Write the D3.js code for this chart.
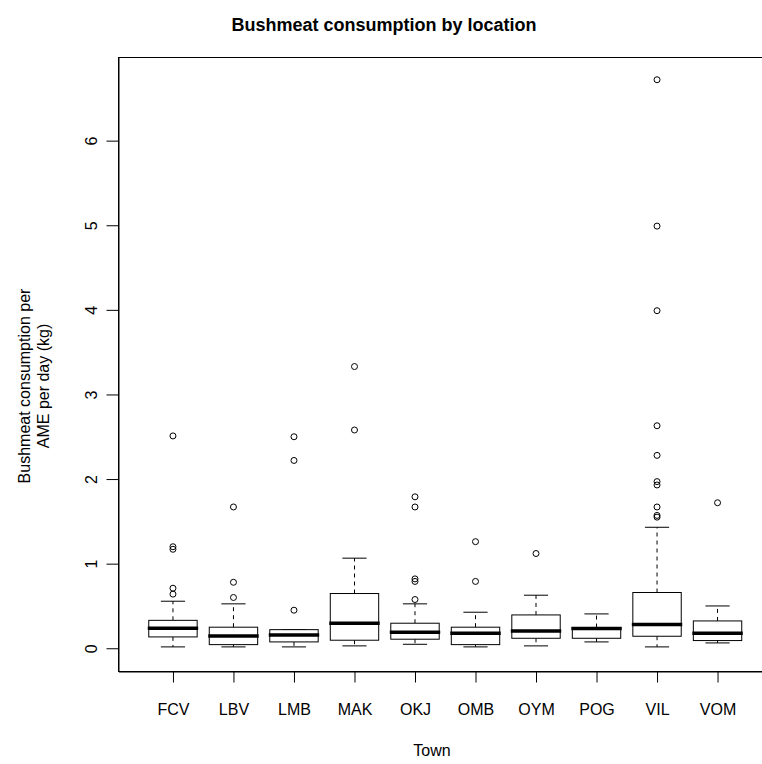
<!DOCTYPE html>
<html>
<head>
<meta charset="utf-8">
<script src="https://cdn.jsdelivr.net/npm/d3@7"></script>
<style>
  body { margin: 0; background: #fff; }
  svg { display: block; background: #fff; }
  text { font-family: "Liberation Sans", Arial, Helvetica, sans-serif; fill: #000; }
</style>
</head>
<body>
<svg id="chart" width="762" height="764"></svg>
<script>
// Town codes along the x axis
const towns = ["FCV", "LBV", "LMB", "MAK", "OKJ", "OMB", "OYM", "POG", "VIL", "VOM"];

// Box statistics per town (kg per AME per day)
const whiskerLow  = [0.016, 0.016, 0.016, 0.028, 0.047, 0.016, 0.028, 0.075, 0.016, 0.063];
const lowerHinge  = [0.134, 0.043, 0.075, 0.095, 0.107, 0.043, 0.118, 0.118, 0.142, 0.091];
const medians     = [0.236, 0.146, 0.158, 0.296, 0.189, 0.178, 0.205, 0.233, 0.280, 0.178];
const upperHinge  = [0.330, 0.249, 0.220, 0.647, 0.296, 0.249, 0.394, 0.245, 0.659, 0.323];
const whiskerHigh = [0.556, 0.525, 0.220, 1.065, 0.525, 0.426, 0.627, 0.406, 1.430, 0.500];

// Observations beyond the whiskers
const outliers = [
  [0.64, 0.71, 1.17, 1.20, 2.51],
  [0.60, 0.78, 1.67],
  [0.45, 2.22, 2.50],
  [2.58, 3.33],
  [0.576, 0.79, 0.82, 1.67, 1.79],
  [0.79, 1.26],
  [1.12],
  [],
  [1.55, 1.57, 1.67, 1.93, 1.97, 2.28, 2.63, 3.99, 4.99, 6.72],
  [1.72]
];

const yTicks = [0, 1, 2, 3, 4, 5, 6];

const width = 762, height = 764;
const plot = { left: 118.5, right: 772, top: 57, bottom: 671 };

const svg = d3.select("#chart");

// Data range padded by 4% on each side, as in a base-graphics boxplot
const yMax = d3.max(outliers.flat().concat(whiskerHigh));
const yMin = 0;
const pad = (yMax - yMin) * 0.04;
const y = d3.scaleLinear().domain([yMin - pad, yMax + pad]).range([plot.bottom, plot.top]);
const x = d3.scaleLinear().domain([0.1, towns.length + 0.9]).range([plot.left, plot.right]);

const boxW = (x(2) - x(1)) * 0.8;

// Plot frame
svg.append("rect")
  .attr("x", plot.left).attr("y", plot.top + 0.5)
  .attr("width", plot.right - plot.left).attr("height", plot.bottom - plot.top)
  .attr("fill", "none").attr("stroke", "#000").attr("stroke-width", 1);

// Y axis
const yAxis = svg.append("g")
  .attr("transform", `translate(${plot.left},0)`)
  .call(d3.axisLeft(y).tickValues(yTicks).tickSize(12).tickSizeOuter(0).tickFormat(d3.format("d")));
yAxis.select(".domain").attr("stroke", "#000");
yAxis.selectAll(".tick line").attr("stroke", "#000");
yAxis.selectAll(".tick text")
  .attr("x", null).attr("dy", null)
  .attr("transform", "translate(-22,0) rotate(-90)")
  .attr("text-anchor", "middle")
  .style("font-size", "16px");

// X axis
const xAxis = svg.append("g")
  .attr("transform", `translate(0,${plot.bottom + 0.5})`)
  .call(d3.axisBottom(x).tickValues(d3.range(1, towns.length + 1)).tickSize(11).tickSizeOuter(0)
    .tickFormat(i => towns[i - 1]));
xAxis.select(".domain").attr("stroke", "#000");
xAxis.selectAll(".tick line").attr("stroke", "#000");
xAxis.selectAll(".tick text")
  .attr("y", 43).attr("dy", null)
  .style("font-size", "16px");

// Boxes
const g = svg.append("g").attr("class", "boxes");
towns.forEach((t, i) => {
  const cx = x(i + 1);
  const b = g.append("g");
  // whiskers
  b.append("line")
    .attr("x1", cx).attr("x2", cx)
    .attr("y1", y(upperHinge[i])).attr("y2", y(whiskerHigh[i]))
    .attr("stroke", "#000").attr("stroke-dasharray", "4,4");
  b.append("line")
    .attr("x1", cx).attr("x2", cx)
    .attr("y1", y(lowerHinge[i])).attr("y2", y(whiskerLow[i]))
    .attr("stroke", "#000").attr("stroke-dasharray", "4,4");
  // staples
  [whiskerHigh[i], whiskerLow[i]].forEach(v => {
    b.append("line")
      .attr("x1", cx - boxW / 4).attr("x2", cx + boxW / 4)
      .attr("y1", y(v)).attr("y2", y(v))
      .attr("stroke", "#000");
  });
  // box
  b.append("rect")
    .attr("x", cx - boxW / 2).attr("width", boxW)
    .attr("y", y(upperHinge[i])).attr("height", y(lowerHinge[i]) - y(upperHinge[i]))
    .attr("fill", "#fff").attr("stroke", "#000");
  // median
  b.append("line")
    .attr("x1", cx - boxW / 2 - 1).attr("x2", cx + boxW / 2 + 1)
    .attr("y1", y(medians[i])).attr("y2", y(medians[i]))
    .attr("stroke", "#000").attr("stroke-width", 3.5);
  // outliers
  b.selectAll("circle").data(outliers[i]).enter().append("circle")
    .attr("cx", cx).attr("cy", d => y(d)).attr("r", 3)
    .attr("fill", "none").attr("stroke", "#000").attr("stroke-width", 1);
});

// Title and axis labels
svg.append("text")
  .attr("x", 384).attr("y", 31)
  .attr("text-anchor", "middle")
  .style("font-size", "18px").style("font-weight", "bold")
  .text("Bushmeat consumption by location");

svg.append("text")
  .attr("x", 432).attr("y", 756)
  .attr("text-anchor", "middle")
  .style("font-size", "16px")
  .text("Town");

const yLab = svg.append("text")
  .attr("transform", "translate(0,386) rotate(-90)")
  .attr("text-anchor", "middle")
  .style("font-size", "16px");
yLab.append("tspan").attr("x", 0).attr("y", 30).text("Bushmeat consumption per");
yLab.append("tspan").attr("x", 0).attr("y", 49).text("AME per day (kg)");
</script>
</body>
</html>
